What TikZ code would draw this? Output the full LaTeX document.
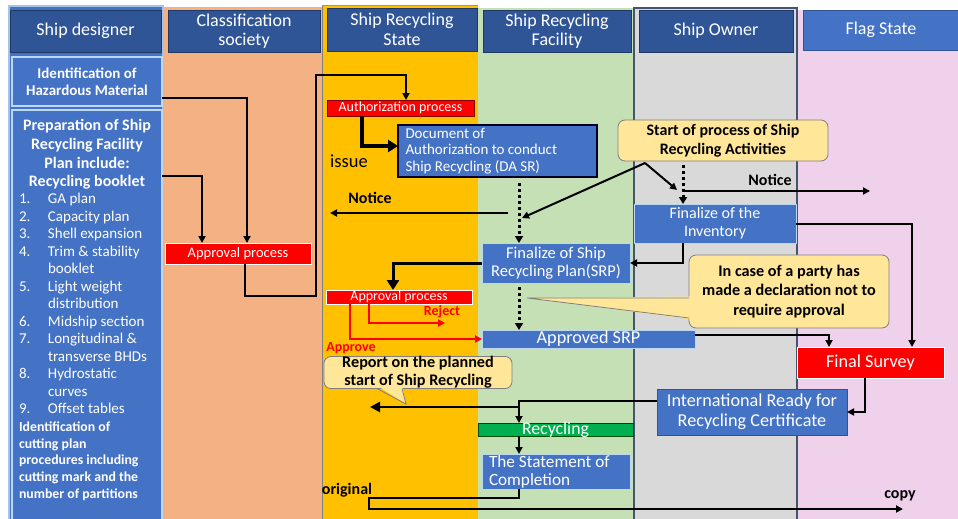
\documentclass[tikz,border=0pt]{standalone}
\usepackage{fontspec}
\setmainfont{Carlito}
\usetikzlibrary{arrows.meta,calc}
\definecolor{hdrdark}{HTML}{2F5597}
\definecolor{hdrline}{HTML}{203864}
\definecolor{mblue}{HTML}{4472C4}
\definecolor{lightline}{HTML}{BDD7EE}
\definecolor{peach}{HTML}{F4B183}
\definecolor{gold}{HTML}{FFC000}
\definecolor{lgreen}{HTML}{C5E0B4}
\definecolor{lgrey}{HTML}{D9D9D9}
\definecolor{pink}{HTML}{F0D1EC}
\definecolor{callfill}{HTML}{FFE699}
\definecolor{callline}{HTML}{7F7F7F}
\definecolor{barg}{HTML}{00B050}
\definecolor{ownerline}{HTML}{44546A}
\newcommand{\fsz}[2]{\fontsize{#1}{#2}\selectfont}
\begin{document}
\begin{tikzpicture}[x=1pt,y=-1pt,
  box/.style={inner sep=0pt, outer sep=0pt, align=center, text=white},
  hdr/.style={box, fill=hdrdark, draw=hdrline, line width=0.8pt, font=\fsz{18}{19.5}},
  bluebox/.style={box, fill=mblue, draw=lightline, line width=1pt},
  redbox/.style={box, fill=red, draw=white, line width=0.6pt},
  callout/.style={inner sep=0pt, outer sep=0pt, align=center, fill=callfill, draw=callline, rounded corners=7pt, line width=0.8pt, font=\bfseries\fsz{16}{18.5}},
  lbl/.style={inner sep=0pt, font=\bfseries\fsz{16}{17}},
  arr/.style={line width=2pt, -{Triangle[length=7pt,width=7pt]}},
  thickarr/.style={line width=3.5pt, -{Triangle[length=10pt,width=12pt]}},
  redarr/.style={draw=red, line width=2pt, -{Triangle[length=7pt,width=7pt]}},
  dotarr/.style={line width=3pt, dash pattern=on 3pt off 3pt, -{Triangle[length=7pt,width=8pt]}},
  every node/.append style={outer sep=0pt}
]
\useasboundingbox (0,0) rectangle (958,519);
\fill[white] (0,0) rectangle (958,519);
% lanes
\fill[peach] (164,7) rectangle (322,519);
\fill[gold] (322,5) rectangle (478,519);
\draw[callline, line width=0.8pt] (322,5) -- (322,519);
\draw[gold!80!black, line width=0.8pt] (322,5) -- (478,5);
\fill[lgreen] (478,8) rectangle (634,519);
\fill[lgrey] (634,8) rectangle (797,519);
\draw[ownerline, line width=1.2pt] (634,519) -- (634,8) -- (797,8) -- (797,519);
\fill[pink] (797.6,10) rectangle (958,519);
\fill[mblue] (9,6) rectangle (163,520);
\draw[lightline!80!mblue, line width=2pt] (9,522) -- (9,6) -- (163,6) -- (163,522);
% headers
\node[hdr, minimum width=151pt, minimum height=42pt] (h1) at (85.5,31) {Ship designer};
\node[hdr, minimum width=152pt, minimum height=42pt] (h2) at (244,31) {Classification\\society};
\node[hdr, minimum width=150pt, minimum height=43pt] (h3) at (402,29.5) {Ship Recycling\\State};
\node[hdr, minimum width=148pt, minimum height=42pt] (h4) at (557,31) {Ship Recycling\\Facility};
\node[hdr, minimum width=154pt, minimum height=42pt] (h5) at (716,31) {Ship Owner};
\node[hdr, fill=mblue, draw=hdrdark, minimum width=156pt, minimum height=40pt] (h6) at (881,30) {Flag State};
% ship designer boxes
\node[bluebox, line width=2pt, minimum width=150pt, minimum height=49pt, font=\bfseries\fsz{15}{17}] (ident) at (87,81.5) {Identification of\\Hazardous Material};
\node[bluebox, line width=2pt, minimum width=150pt, minimum height=412pt] (prep) at (87,316) {};
\node[anchor=north, text=white, align=center, inner sep=0pt, font=\bfseries\fsz{16}{18.7}] (prephead) at (87,119.5) {Preparation of Ship\\Recycling Facility\\Plan include:\\Recycling booklet};
\node[anchor=north west, text=white, align=flush left, inner sep=0pt, font=\fsz{15}{17.5}] (preplist) at (19,193.5) {\makebox[29pt][l]{1.}GA plan\\
\makebox[29pt][l]{2.}Capacity plan\\
\makebox[29pt][l]{3.}Shell expansion\\
\makebox[29pt][l]{4.}Trim \& stability\\
\hspace*{29pt}booklet\\
\makebox[29pt][l]{5.}Light weight\\
\hspace*{29pt}distribution\\
\makebox[29pt][l]{6.}Midship section\\
\makebox[29pt][l]{7.}Longitudinal \&\\
\hspace*{29pt}transverse BHDs\\
\makebox[29pt][l]{8.}Hydrostatic\\
\hspace*{29pt}curves\\
\makebox[29pt][l]{9.}Offset tables};
\node[anchor=north west, text=white, align=flush left, inner sep=0pt, font=\bfseries\fsz{13.8}{16.6}] (prepcut) at (19,422) {Identification of\\cutting plan\\procedures including\\cutting mark and the\\number of partitions};
% process boxes
\node[redbox, minimum width=146pt, minimum height=21pt, font=\fsz{14.5}{16}] (appr1) at (238,253.5) {Approval process};
\node[redbox, draw=red!50!black, minimum width=147pt, minimum height=16pt, text height=9pt, text depth=2pt, font=\fsz{14}{14}] (auth) at (400.5,108) {Authorization process};
\node[box, fill=mblue, draw=black!85!blue, line width=1.6pt, minimum width=199pt, minimum height=52pt, text width=184pt, align=flush left, font=\fsz{15}{16.5}] (doc) at (497.5,151) {Document of\\Authorization to conduct\\Ship Recycling (DA SR)};
\node[callout, minimum width=210pt, minimum height=41pt, font=\bfseries\fsz{16}{19}] (start) at (723,140.5) {Start of process of Ship\\Recycling Activities};
\node[bluebox, minimum width=162pt, minimum height=39pt, font=\fsz{16}{18}] (finv) at (715,223.5) {Finalize of the\\Inventory};
\node[bluebox, minimum width=148pt, minimum height=40pt, font=\fsz{16.5}{18}] (fship) at (556,263) {Finalize of Ship\\Recycling Plan(SRP)};
\node[redbox, minimum width=146pt, minimum height=14pt, text height=9pt, text depth=2pt, font=\fsz{14}{14}] (appr2) at (399,297) {Approval process};
\node[bluebox, minimum width=213pt, minimum height=18pt, text height=12pt, text depth=3pt, font=\fsz{18.2}{19}] (asrp) at (588.5,339) {Approved SRP};
% in case callout
\node[callout, minimum width=200pt, minimum height=73pt, font=\bfseries\fsz{16.2}{19.5}] (incase) at (789,291.5) {In case of a party has\\made a declaration not to\\require approval};
\fill[callfill] (527,298) -- ($(incase.west)+(3,5)$) -- ($(incase.west)+(3,28)$) -- cycle;
\draw[callline, line width=0.8pt] ($(incase.west)+(0,6.5)$) -- (527,298) -- ($(incase.west)+(0,26.5)$);
\node[redbox, minimum width=147pt, minimum height=31pt, font=\fsz{18.2}{19}] (fsurvey) at (870.5,362.5) {Final Survey};
\node[box, fill=mblue, draw=hdrdark, line width=1pt, minimum width=190pt, minimum height=46pt, font=\fsz{18.2}{20}] (cert) at (752,412) {International Ready for\\Recycling Certificate};
% report callout
\node[callout, minimum width=188pt, minimum height=31pt, font=\bfseries\fsz{16.2}{18}] (report) at (418,372.5) {Report on the planned\\start of Ship Recycling};
\fill[callfill] ($(report.south)+(-41,-3)$) -- (406,404) -- ($(report.south)+(-16,-3)$) -- cycle;
\draw[callline, line width=0.8pt] ($(report.south)+(-41,0)$) -- (406,404) -- ($(report.south)+(-16,0)$);
\node[box, fill=barg, draw=green!30!black, line width=0.8pt, minimum width=155pt, minimum height=13pt, text height=11pt, text depth=1pt, font=\fsz{17.8}{18}] (recyc) at (555.5,429.5) {Recycling};
\node[bluebox, minimum width=148pt, minimum height=35pt, text width=134pt, align=flush left, font=\fsz{17.2}{18}] (stmt) at (556,471.5) {The Statement of\\Completion};
% labels
\node[inner sep=0pt, font=\fsz{18.5}{19}] (issue) at (349,161) {issue};
\node[lbl] (notice1) at (370,198) {Notice};
\node[lbl] (notice2) at (770,180) {Notice};
\node[lbl, text=red, font=\bfseries\fsz{14}{14}] (reject) at (442,312) {Reject};
\node[lbl, text=red, font=\bfseries\fsz{14}{14}] (approve) at (351,348) {Approve};
\node[lbl] (original) at (347,490) {original};
\node[lbl] (copy) at (900,496) {copy};
% connectors
\draw[arr] (ident.east |- 0,98) -| (appr1.north -| 247,0);
\draw[arr] (prep.east |- 0,176) -| (appr1.north -| 202,0);
\draw[arr] (appr1.south -| 245,0) |- (316,296) -- (316,75) -| (auth.north -| 406,0);
\draw[thickarr] (auth.south -| 362,0) |- (doc.west |- 0,146);
\draw[dotarr] ($(doc.south -| 519,0)+(0,6)$) -- (fship.north -| 519,0);
\coordinate (nL) at (508,213);
\coordinate (nLend) at (330,213);
\draw[arr] (nL) -- (nLend);
\coordinate (peak) at (645,163);
\draw[arr] (peak) -- (522,218);
\draw[arr] (peak) -- (677,190);
\draw[dotarr] ($(start.south -| 683,0)+(0,4)$) -- (finv.north -| 683,0);
\coordinate (nR) at (683,191);
\coordinate (nRend) at (870,191);
\draw[arr] (nR) -- (nRend);
\draw[arr] (finv.east) -| (fsurvey.north -| 912,0);
\draw[arr] (finv.south -| 683,0) |- (fship.east);
\draw[thickarr, line width=3pt] (fship.west) -| (appr2.north -| 393,0);
\draw[redarr] (appr2.south -| 369,0) |- (445,323);
\draw[redarr] (appr2.south -| 350,0) |- (asrp.west);
\draw[dotarr] ($(fship.south -| 519,0)+(0,4)$) -- (asrp.north -| 519,0);
\draw[arr] (asrp.east |- 0,335) -| (fsurvey.north -| 829,0);
\draw[arr] (fsurvey.south -| 865,0) |- (cert.east);
\draw[arr] (cert.west |- 0,401) -| (recyc.north -| 519,0);
\draw[line width=2.5pt, -{Triangle[length=10pt,width=10pt]}] (519,407) -- (370,407);
\draw[arr] (recyc.south -| 519,0) -- (stmt.north -| 519,0);
\draw[arr] (stmt.south -| 519,0) |- (369,498) |- (903,509);
\end{tikzpicture}
\end{document}
